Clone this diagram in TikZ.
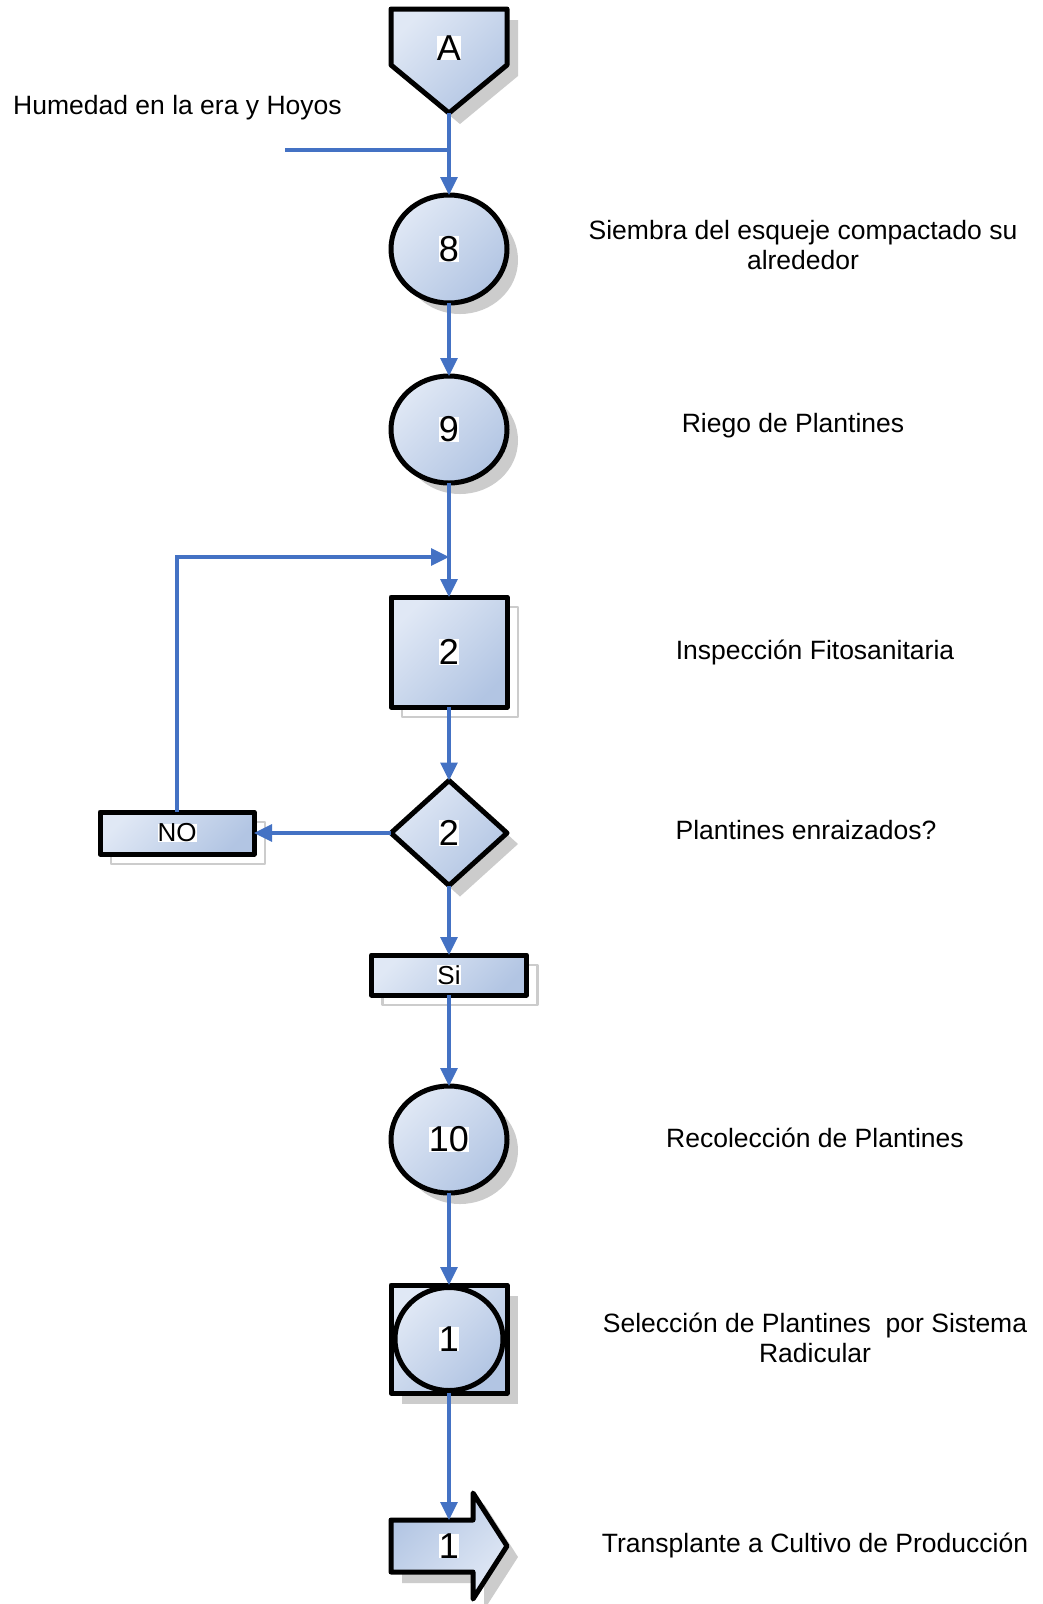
\documentclass[tikz,border=0pt]{standalone}
\usepackage{fontspec}
\setmainfont{Liberation Sans}
\usetikzlibrary{shapes.geometric,arrows.meta}

\definecolor{flowblue}{RGB}{68,114,196}
\definecolor{fillhi}{RGB}{224,232,245}
\definecolor{filllo}{RGB}{178,197,227}
\definecolor{shadowgray}{RGB}{204,204,204}

% digit / word on a tight white patch
\newcommand{\wlbl}[1]{{\setlength{\fboxsep}{0pt}\colorbox{white}{#1}}}

\begin{document}
\begin{tikzpicture}[x=1pt,y=-1pt,
  shapeline/.style={draw=black, line width=5pt, line join=round,
    top color=fillhi, bottom color=filllo, shading angle=45},
  shapeflip/.style={draw=black, line width=5pt, line join=round,
    top color=filllo, bottom color=fillhi, shading angle=45},
  shapenode/.style={shapeline, inner sep=0pt, outer sep=0pt,
    font=\fontsize{36}{36}\selectfont},
  boxnode/.style={shapeline, rectangle, inner sep=0pt, outer sep=0pt,
    font=\fontsize{26}{26}\selectfont},
  fshadow/.style={preaction={fill=shadowgray,
    transform canvas={shift={(11pt,-11pt)}}}},
  oshadow/.style={preaction={draw=shadowgray, line width=2.5pt,
    transform canvas={shift={(11pt,-10pt)}}}},
  bigtxt/.style={inner sep=0pt, font=\fontsize{36}{36}\selectfont},
  txt/.style={inner sep=0pt, align=center, font=\fontsize{26.5}{29.5}\selectfont},
  line/.style={draw=flowblue, line width=3.2pt},
  conn/.style={line, -{Triangle[length=18pt,width=17pt]}}
]
\useasboundingbox[fill=white] (0,0) rectangle (1043,1604);

% ---- start connector (pentagon A)
\draw[shapeline, fshadow] (391,9) -- (507,9) -- (507,65) -- (449,113)
  -- (391,65) -- cycle;
\node[bigtxt] (A) at (449,48) {\wlbl{A}};
\coordinate (Atip) at (449,113);

% ---- process chain
\node[shapenode, ellipse, fshadow, minimum width=116pt, minimum height=108pt]
  (c8) at (449,249) {\wlbl{8}};
\node[shapenode, ellipse, fshadow, minimum width=116pt, minimum height=107pt]
  (c9) at (449,429.5) {\wlbl{9}};
\node[shapenode, rectangle, oshadow, minimum width=116pt, minimum height=110pt]
  (sq) at (449,652) {\wlbl{2}};
\node[shapenode, diamond, fshadow, minimum width=116pt, minimum height=105pt]
  (dm) at (449,833) {\wlbl{2}};
\node[boxnode, oshadow, minimum width=154pt, minimum height=42pt]
  (no) at (177,833) {\wlbl{NO}};
\node[boxnode, oshadow, minimum width=155pt, minimum height=40pt]
  (si) at (449,975) {\wlbl{Si}};
\node[shapenode, ellipse, fshadow, minimum width=116pt, minimum height=107pt]
  (c10) at (449,1139.5) {\wlbl{10}};

% combined operation / inspection
\node[shapenode, rectangle, fshadow, minimum width=116pt, minimum height=108pt]
  (sel) at (449,1339) {};
\node[shapenode, ellipse, minimum width=108pt, minimum height=103pt]
  (selc) at (449,1339) {\wlbl{1}};

% ---- transport arrow
\draw[shapeflip, fshadow] (391,1520) -- (473,1520) -- (473,1493) -- (507,1546)
  -- (473,1599) -- (473,1572) -- (391,1572) -- cycle;
\node[bigtxt] (T) at (449,1546) {\wlbl{1}};
\coordinate (Tin) at (449,1520);

% ---- connectors
\coordinate (h0) at (285,150);
\coordinate (h1) at (449,150);
\coordinate (j1) at (449,557);
\draw[line] (h0) -- (h1);
\draw[conn] (Atip) -- (c8.north);
\draw[conn] (c8.south) -- (c9.north);
\draw[conn] (c9.south) -- (sq.north);
\draw[conn] (no.north) |- (j1);
\draw[conn] (sq.south) -- (dm.north);
\draw[conn] (dm.west) -- (no.east);
\draw[conn] (dm.south) -- (si.north);
\draw[conn] (si.south) -- (c10.north);
\draw[conn] (c10.south) -- (sel.north);
\draw[conn] (sel.south) -- (Tin);

% ---- descriptions
\node[txt, anchor=base west] (hum) at (13,114) {Humedad en la era y Hoyos};
\node[txt] (d8) at (803,245) {Siembra del esqueje compactado su\\alrededor};
\node[txt, anchor=base] (d9) at (793,432) {Riego de Plantines};
\node[txt, anchor=base] (dsq) at (815,659) {Inspección Fitosanitaria};
\node[txt, anchor=base] (ddm) at (806,839) {Plantines enraizados?};
\node[txt, anchor=base] (d10) at (815,1147) {Recolección de Plantines};
\node[txt] (dsel) at (815,1338) {Selección de Plantines~ por Sistema\\Radicular};
\node[txt, anchor=base] (dT) at (815,1552) {Transplante a Cultivo de Producción};
\end{tikzpicture}
\end{document}
